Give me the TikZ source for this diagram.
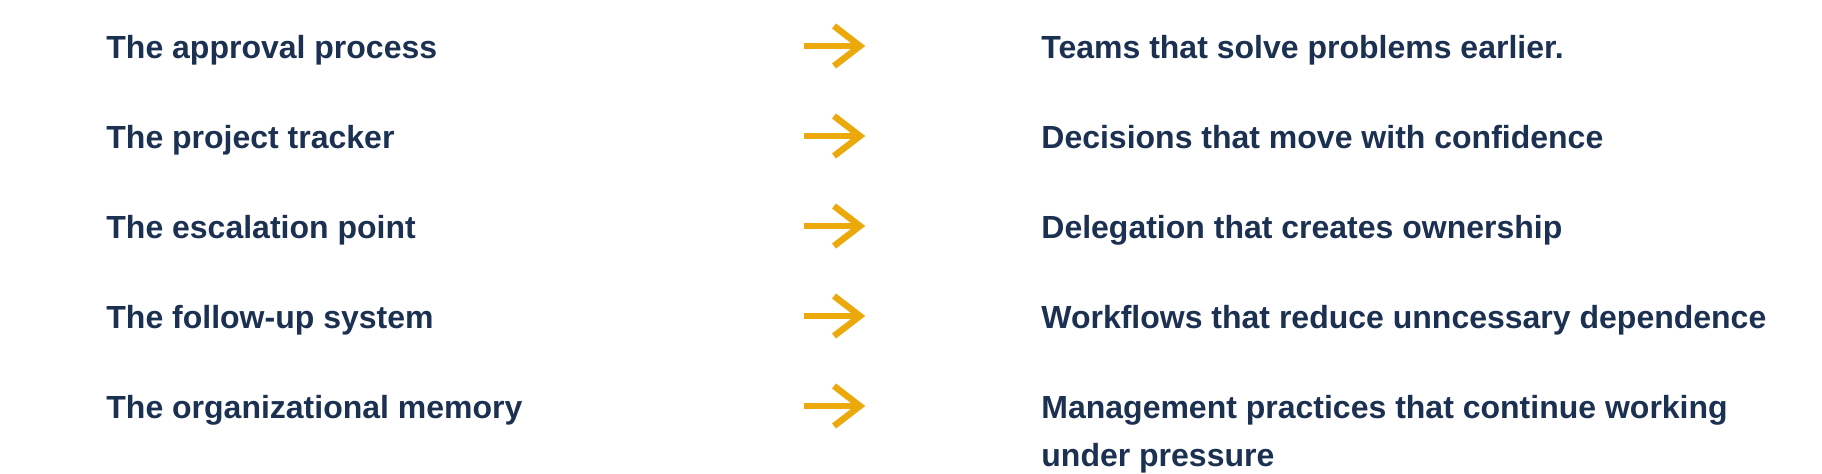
\documentclass[tikz,border=0pt]{standalone}
\usepackage{fontspec}
\setmainfont{Liberation Sans}
\definecolor{navy}{HTML}{1C3152}
\definecolor{gold}{HTML}{EBA90C}
\tikzset{
  item/.style={anchor=base west, inner sep=0pt, text=navy, align=left,
    font=\fontsize{16}{24}\selectfont\bfseries},
  pointer/.style={draw=gold, line width=3.2pt, line join=miter}
}

\begin{document}
\begin{tikzpicture}[x=0.5pt,y=-0.5pt]
  \useasboundingbox (0,0) rectangle (1822,473);

  \foreach \i/\drop/\src/\dst in {1/0/The approval process/Teams that solve problems earlier.,
    2/0/The project tracker/Decisions that move with confidence,
    3/0/The escalation point/Delegation that creates ownership,
    4/0/The follow-up system/Workflows that reduce unncessary dependence,
    5/48/The organizational memory/{Management practices that continue working\\under pressure}} % edit here for the rows
  {
    \node[item] (src\i) at (106,{58+90*(\i-1)}) {\src};
    \node[item] (dst\i) at (1041,{58+90*(\i-1)+\drop}) {\dst};
    \coordinate (tail\i) at (804,{46+90*(\i-1)});
    \coordinate (tip\i) at (860,{46+90*(\i-1)});
    \draw[pointer] (tail\i) -- (tip\i);
    \draw[pointer] (tip\i) ++(-26,-20) -- (tip\i) -- ++(-26,20);
  }

\end{tikzpicture}
\end{document}
